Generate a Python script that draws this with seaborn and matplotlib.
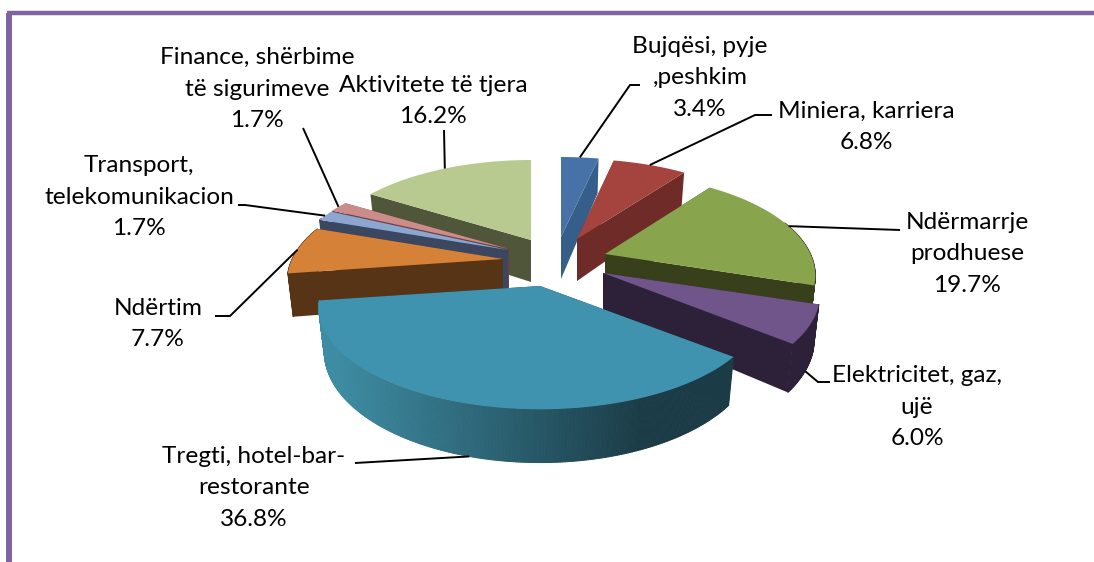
import numpy as np
import matplotlib
matplotlib.use("Agg")
import matplotlib.pyplot as plt
from matplotlib.colors import to_rgb
from matplotlib.collections import PolyCollection
import seaborn as sns

# ---- data ----
categories = ["Bujqësi, pyje\n,peshkim", "Miniera, karriera", "Ndërmarrje\nprodhuese",
              "Elektricitet, gaz,\nujë", "Tregti, hotel-bar-\nrestorante", "Ndërtim",
              "Transport,\ntelekomunikacion", "Finance, shërbime\ntë sigurimeve", "Aktivitete të tjera"]
values = [3.4, 6.8, 19.7, 6.0, 36.8, 7.7, 1.7, 1.7, 16.2]

# ---- styling ----
top_colors = ["#4672A8", "#A5443F", "#88A44C", "#70558B", "#3F93AE", "#D58138", "#8DA6CF", "#CC8C8A", "#B9CA91"]
cut_colors = ["#355E8A", "#6E2B28", "#38401B", "#2C2138", "#1B3C47", "#583417", "#3B4660", "#6C3F44", "#4F563A"]
rim_left   = ["#355E8A", "#6E2B28", "#38401B", "#2C2138", "#3E8CA3", "#583417", "#3B4660", "#6C3F44", "#4F563A"]
# explosion: screen position of each slice's tip, and a small perspective radius correction
tips = [(561, 237), (577, 239), (605, 254), (603, 273), (540, 286), (503, 259), (508, 250), (509, 249), (531, 240)]
radius_scale = [1.0, 0.98, 0.96, 0.99, 1.01, 0.985, 1.0, 1.0, 0.98]
label_pos = [(700, 78), (866, 127), (967, 254), (917, 407), (254, 488), (158, 324), (139, 197), (257, 89), (433, 101)]
# leader elbows, and whether the leader meets the lower rim
elbows = [[(630, 85), (640, 85)], [(755, 115), (772, 115)], [(900, 230)], [(818, 382), (830, 382)],
          [(355, 463)], [(230, 316), (215, 316)], [(245, 205), (238, 205)], [(303, 128)], [(444, 130)]]
lower = [False, False, False, True, True, False, False, False, False]
draw_order = [0, 1, 2, 3, 8, 7, 6, 5, 4]
R, KR, D, DEPTH, BOTTOM_SHRINK = 214.0, 97.0, 4.7, 42.0, 0.975

sns.set_theme(style="white")
plt.rcParams["font.family"] = ["Lato", "DejaVu Sans"]
palette = sns.color_palette(top_colors)

fig, ax = plt.subplots(figsize=(10.94, 5.62), dpi=100)
ax.set_position([0, 0, 1, 1])
ax.set_xlim(0, 1094)
ax.set_ylim(562, 0)
ax.axis("off")


def project(i, t, z=0.0):
    """Perspective projection of a rim point of slice i at clockwise angle t (radians)."""
    tip = tips[i]
    u, v = np.sin(t), np.cos(t)
    s = D / (D + v)
    shrink = 1 - (1 - BOTTOM_SHRINK) * z
    r = R * radius_scale[i]
    return tip[0] + r * u * s * shrink, tip[1] - KR * v * s + z * DEPTH * s


edges = np.radians(np.concatenate([[0], np.cumsum(values)]) * 3.6)

for layer, i in enumerate(draw_order):
    tip = tips[i]
    ts = np.linspace(edges[i], edges[i + 1], max(int(np.degrees(edges[i + 1] - edges[i])) * 2, 6))
    # cut faces
    for t in (ts[0], ts[-1]):
        x0, y0 = project(i, t)
        x1, y1 = project(i, t, 1)
        ax.fill([tip[0], x0, x1, tip[0]], [tip[1], y0, y1, tip[1] + DEPTH],
                color=cut_colors[i], lw=0, zorder=layer * 3 + 1)
    # outer rim, only the part facing the viewer, shaded along the arc
    quads, cols = [], []
    c0, c1 = np.array(to_rgb(rim_left[i])), np.array(to_rgb(cut_colors[i]))
    for a, b in zip(ts[:-1], ts[1:]):
        if np.cos(a) > 0.35:
            continue
        p = [project(i, a), project(i, b), project(i, b, 1), project(i, a, 1)]
        xm = (p[0][0] - (tip[0] - R)) / (2 * R)
        f = np.clip((xm - 0.02) / 0.72, 0, 1)
        quads.append(p)
        cols.append(tuple(c0 * (1 - f) + c1 * f))
    if quads:
        ax.add_collection(PolyCollection(quads, facecolors=cols, edgecolors=cols, linewidths=0.7,
                                         zorder=layer * 3 + 2))
    # top
    xs, ys = project(i, ts)
    ax.fill(np.r_[tip[0], xs], np.r_[tip[1], ys], color=palette[i], lw=0, zorder=layer * 3 + 3)

# labels and leaders
for i, (cat, val) in enumerate(zip(categories, values)):
    mid = (edges[i] + edges[i + 1]) / 2
    ax_, ay_ = project(i, mid, 1 if lower[i] else 0)
    pts = [(ax_, ay_)] + elbows[i]
    ax.plot([p[0] for p in pts], [p[1] for p in pts], color="black", lw=1.4,
            solid_capstyle="butt", zorder=40)
    ax.text(*label_pos[i], f"{cat}\n{val:.1f}%", ha="center", va="center", fontsize=17.6,
            color="black", linespacing=1.62, zorder=50)

# frame
frame = "#8064A2"
ax.plot([9, 9], [562, 13], color=frame, lw=4.3, solid_capstyle="butt", zorder=60)
ax.plot([6.5, 1094], [13, 13], color=frame, lw=3.2, solid_capstyle="butt", zorder=60)

fig.savefig("out.png", dpi=100)
